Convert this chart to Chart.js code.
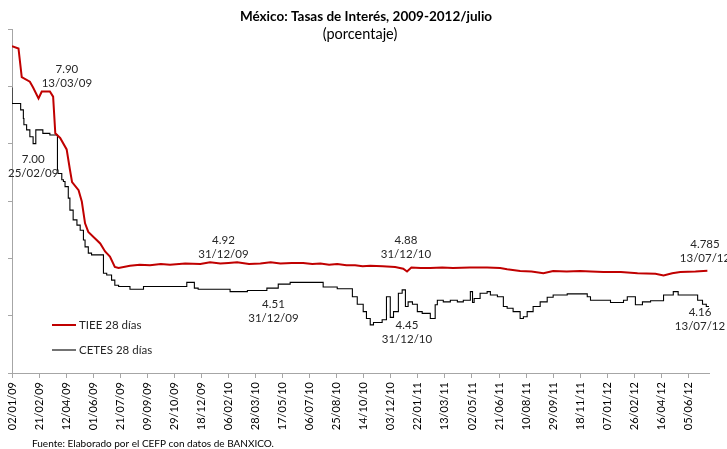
<!DOCTYPE html>
<html>
<head>
<meta charset="utf-8">
<script src="https://cdn.jsdelivr.net/npm/chart.js@4.4.1/dist/chart.umd.min.js"></script>
<style>
  body { margin: 0; background: #fff; }
  #wrap { width: 727px; height: 449px; position: relative; }
</style>
</head>
<body>
<div id="wrap"><canvas id="rates"></canvas></div>
<script>
// x values are days counted from 02/01/09
const tickLabels = ['02/01/09', '21/02/09', '12/04/09', '01/06/09', '21/07/09', '09/09/09',
  '29/10/09', '18/12/09', '06/02/10', '28/03/10', '17/05/10', '06/07/10', '25/08/10',
  '14/10/10', '03/12/10', '22/01/11', '13/03/11', '02/05/11', '21/06/11', '10/08/11',
  '29/09/11', '18/11/11', '07/01/12', '26/02/12', '16/04/12', '05/06/12'];
const tickStep = 50;
const lastDay = 1288; // 13/07/12

// TIEE 28 dias
const tieeDays = [0, 12, 18, 33, 39, 49, 55, 70, 76, 80, 89, 101, 107, 111, 123, 129, 135, 141,
  153, 163, 172, 181, 190, 197, 218, 236, 255, 275, 292, 320, 348, 366, 385, 400, 416, 438, 459,
  478, 496, 517, 538, 555, 570, 586, 601, 618, 634, 648, 662, 685, 708, 723, 730, 738, 755, 773,
  795, 815, 846, 878, 902, 915, 939, 960, 982, 1000, 1025, 1050, 1070, 1093, 1125, 1156, 1189,
  1204, 1220, 1235, 1263, 1285];
const tieeValues = [8.70, 8.66, 8.16, 8.08, 7.98, 7.79, 7.91, 7.91, 7.82, 7.18, 7.10, 6.90, 6.55,
  6.33, 6.19, 5.99, 5.61, 5.46, 5.35, 5.26, 5.12, 5.03, 4.85, 4.83, 4.87, 4.89, 4.88, 4.90, 4.89,
  4.91, 4.90, 4.93, 4.91, 4.92, 4.93, 4.90, 4.91, 4.93, 4.91, 4.92, 4.92, 4.90, 4.91, 4.89, 4.90,
  4.88, 4.88, 4.86, 4.87, 4.86, 4.85, 4.82, 4.77, 4.84, 4.83, 4.83, 4.84, 4.83, 4.84, 4.84, 4.83,
  4.81, 4.78, 4.77, 4.74, 4.78, 4.77, 4.78, 4.77, 4.76, 4.76, 4.74, 4.73, 4.70, 4.74, 4.76, 4.77,
  4.785];

// CETES 28 dias (weekly auction levels)
const cetesDays = [0, 16, 21, 22, 27, 33, 39, 44, 57, 70, 84, 85, 92, 95, 98, 104, 107, 113, 120,
  126, 132, 135, 141, 147, 169, 175, 184, 190, 197, 218, 243, 285, 323, 337, 344, 403, 435, 471,
  492, 514, 527, 575, 601, 629, 638, 649, 655, 662, 668, 684, 692, 699, 705, 714, 721, 727, 732,
  740, 749, 758, 773, 782, 786, 797, 810, 823, 834, 847, 851, 854, 865, 878, 884, 897, 908, 915,
  926, 939, 945, 952, 963, 976, 989, 1000, 1026, 1063, 1069, 1106, 1130, 1137, 1152, 1165, 1180,
  1204, 1222, 1231, 1267, 1276, 1283, 1288];
const cetesValues = [7.98, 7.70, 7.59, 7.44, 7.33, 7.24, 7.12, 7.00, 7.24, 7.18, 7.15, 6.54, 6.48,
  6.37, 6.34, 6.25, 6.05, 5.84, 5.67, 5.58, 5.49, 5.32, 5.20, 5.09, 5.06, 4.74, 4.71, 4.62, 4.53,
  4.51, 4.46, 4.51, 4.51, 4.58, 4.48, 4.46, 4.42, 4.44, 4.48, 4.55, 4.58, 4.58, 4.50, 4.47, 4.33,
  4.20, 4.07, 3.95, 3.84, 3.88, 3.93, 4.33, 3.97, 4.07, 4.39, 4.45, 4.16, 4.24, 4.20, 4.07, 4.04,
  3.95, 4.19, 4.27, 4.24, 4.27, 4.24, 4.27, 4.42, 4.23, 4.30, 4.39, 4.42, 4.36, 4.33, 4.16, 4.13,
  4.07, 3.95, 3.98, 4.07, 4.16, 4.24, 4.32, 4.36, 4.38, 4.33, 4.27, 4.23, 4.27, 4.33, 4.19, 4.24,
  4.26, 4.36, 4.42, 4.36, 4.27, 4.20, 4.16];

// value labels written on the chart
const noteTexts = [['7.90', '13/03/09'], ['7.00', '25/02/09'], ['4.92', '31/12/09'], ['4.51', '31/12/09'],
  ['4.88', '31/12/10'], ['4.45', '31/12/10'], ['4.785', '13/07/12'], ['4.16', '13/07/12']];
const noteDays = [70, 54, 363, 363, 728, 728, 1288, 1288];
const noteValues = [7.90, 7.00, 4.92, 4.51, 4.88, 4.45, 4.785, 4.16];
// offsets of each label from its point, in px
const noteOffsets = [[17, -23], [-8, 16], [15, -23], [65, 18], [0, -25], [1, 35], [-4, -26], [-9, 6]];

const seriesNames = ['TIEE 28 días', 'CETES 28 días'];
const FONT = 'Lato, "Open Sans", sans-serif';

function toPoints(days, values) {
  return days.map((d, i) => ({ x: d, y: values[i] }));
}

const textPlugin = {
  id: 'texts',
  afterDraw(chart) {
    const c = chart.ctx;
    const xs = chart.scales.x, ys = chart.scales.y;
    c.save();
    c.fillStyle = '#000';
    c.textAlign = 'center';
    c.textBaseline = 'middle';
    c.font = 'bold 13.5px ' + FONT;
    c.fillText('México: Tasas de Interés, 2009-2012/julio', 366, 17);
    c.font = '14.5px ' + FONT;
    c.fillText('(porcentaje)', 360, 34);

    // notes
    c.fillStyle = '#262626';
    c.font = '11.5px ' + FONT;
    noteTexts.forEach((t, i) => {
      const px = xs.getPixelForValue(noteDays[i]) + noteOffsets[i][0];
      const py = ys.getPixelForValue(noteValues[i]) + noteOffsets[i][1];
      c.fillText(t[0], px, py);
      c.fillText(t[1], px, py + 14);
    });

    // legend
    c.textAlign = 'left';
    c.font = '11.5px ' + FONT;
    chart.data.datasets.forEach((ds, i) => {
      const y = 325 + i * 25;
      c.strokeStyle = ds.borderColor;
      c.lineWidth = ds.borderWidth;
      c.beginPath();
      c.moveTo(52, y);
      c.lineTo(76, y);
      c.stroke();
      c.fillStyle = '#262626';
      c.fillText(seriesNames[i], 79, y);
    });

    // source
    c.font = '10px ' + FONT;
    c.fillStyle = '#000';
    c.fillText('Fuente: Elaborado por el CEFP con datos de BANXICO.', 32, 444);
    c.restore();
  }
};

const chart = new Chart(document.getElementById('rates'), {
  type: 'line',
  data: {
    datasets: [{
      label: seriesNames[0],
      data: toPoints(tieeDays, tieeValues),
      borderColor: '#c00000',
      borderWidth: 2,
      pointRadius: 0,
      tension: 0
    }, {
      label: seriesNames[1],
      data: toPoints(cetesDays, cetesValues),
      borderColor: '#000000',
      borderWidth: 1.1,
      pointRadius: 0,
      stepped: 'after'
    }]
  },
  options: {
    responsive: true,
    maintainAspectRatio: false,
    animation: false,
    layout: { padding: { top: 29, right: 18, left: 0, bottom: 0 } },
    plugins: { legend: { display: false }, tooltip: { enabled: false } },
    scales: {
      x: {
        type: 'linear',
        min: 0,
        max: lastDay,
        afterBuildTicks: s => { s.ticks = tickLabels.map((l, i) => ({ value: i * tickStep })); },
        afterFit: s => { s.height = 76; },
        grid: { drawOnChartArea: false, drawTicks: true, tickLength: 5, color: '#a6a6a6' },
        border: { color: '#a6a6a6' },
        ticks: {
          autoSkip: false,
          maxRotation: 90,
          minRotation: 90,
          padding: 4,
          color: '#000',
          font: { family: FONT, size: 11 },
          callback: v => tickLabels[Math.round(v / tickStep)]
        }
      },
      y: {
        min: 3,
        max: 9,
        afterFit: s => { s.width = 12; },
        grid: { drawOnChartArea: false, drawTicks: true, tickLength: 4, color: '#a6a6a6' },
        border: { color: '#a6a6a6' },
        ticks: { stepSize: 1, padding: 0, callback: () => '' }
      }
    }
  },
  plugins: [textPlugin]
});
</script>
</body>
</html>
